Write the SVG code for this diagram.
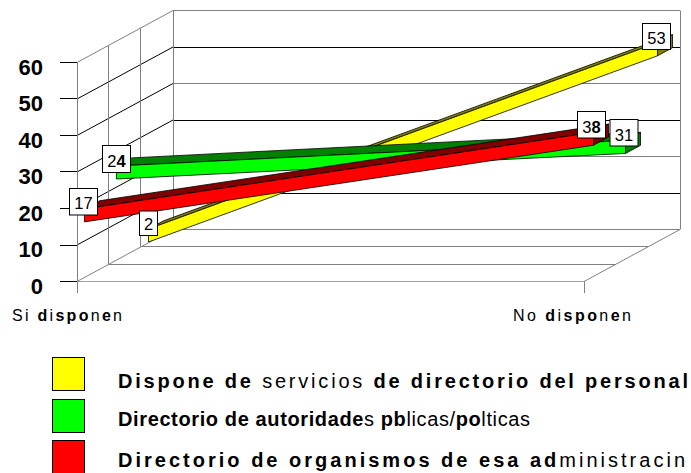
<svg xmlns="http://www.w3.org/2000/svg" width="691" height="473" viewBox="0 0 691 473">
<style>
.g{stroke:#000;stroke-width:1;fill:none}
.gg{stroke:#808080;stroke-width:1;fill:none}
.gl{stroke:#a0a0a0;stroke-width:1;fill:none}
.rb{stroke:#000;stroke-width:0.8;stroke-linejoin:round}
.ax{font-family:"Liberation Sans",Arial,sans-serif;font-size:22px;font-weight:bold;text-anchor:end;fill:#000}
.cat{font-family:"Liberation Sans",Arial,sans-serif;font-size:16px;fill:#000}
.lb{font-family:"Liberation Sans",Arial,sans-serif;font-size:16.5px;text-anchor:middle;fill:#000}
.box{fill:#fff;stroke:#000;stroke-width:1}
.lg{font-family:"Liberation Sans",Arial,sans-serif;font-size:20px;fill:#000}
.b{font-weight:bold}
</style>
<rect width="691" height="473" fill="#fff"/>
<g id="walls">
<line class="gg" x1="173" y1="10.5" x2="680" y2="10.5"/>
<line class="g" x1="173" y1="47.5" x2="680" y2="47.5"/>
<line class="gg" x1="173" y1="83.5" x2="680" y2="83.5"/>
<line class="g" x1="173" y1="120.5" x2="680" y2="120.5"/>
<line class="gg" x1="173" y1="156.5" x2="680" y2="156.5"/>
<line class="g" x1="173" y1="193.5" x2="680" y2="193.5"/>
<line class="gg" x1="173" y1="229.5" x2="680" y2="229.5"/>
<line class="gg" x1="173.5" y1="10.5" x2="173.5" y2="229.5"/>
<line class="gg" x1="680.5" y1="10.5" x2="680.5" y2="229.5"/>
<line class="gg" x1="77" y1="62.5" x2="173" y2="10.5"/>
<line class="g" x1="77" y1="99" x2="173" y2="47"/>
<line class="g" x1="77" y1="135.5" x2="173" y2="83.5"/>
<line class="g" x1="77" y1="172" x2="173" y2="120"/>
<line class="g" x1="77" y1="208.5" x2="173" y2="156.5"/>
<line class="g" x1="77" y1="245" x2="173" y2="193"/>
<line class="gg" x1="77" y1="281.5" x2="173" y2="229.5"/>
<line class="gg" x1="77.5" y1="62.5" x2="77.5" y2="293"/>
<line class="gg" x1="108.5" y1="45.2" x2="108.5" y2="264.2"/>
<line class="gg" x1="140.5" y1="27.8" x2="140.5" y2="246.8"/>
<line class="gg" x1="109" y1="264.5" x2="616" y2="264.5"/>
<line class="gg" x1="141" y1="246.5" x2="648" y2="246.5"/>
<line class="gl" x1="77" y1="281.5" x2="584" y2="281.5"/>
<line class="gg" x1="584" y1="281.5" x2="680" y2="229.5"/>
<line class="gg" x1="584.5" y1="281.5" x2="584.5" y2="293"/>
<line class="g" x1="60" y1="62.5" x2="77" y2="62.5"/>
<line class="g" x1="60" y1="98.5" x2="77" y2="98.5"/>
<line class="g" x1="60" y1="135.5" x2="77" y2="135.5"/>
<line class="g" x1="60" y1="171.5" x2="77" y2="171.5"/>
<line class="g" x1="60" y1="208.5" x2="77" y2="208.5"/>
<line class="g" x1="60" y1="245.5" x2="77" y2="245.5"/>
<line class="g" x1="60" y1="281.5" x2="77" y2="281.5"/>
</g>
<g id="axis-labels">
<text class="ax" x="43" y="74.5">60</text>
<text class="ax" x="43" y="111">50</text>
<text class="ax" x="43" y="147.5">40</text>
<text class="ax" x="43" y="184">30</text>
<text class="ax" x="43" y="220.5">20</text>
<text class="ax" x="43" y="257">10</text>
<text class="ax" x="43" y="293.5">0</text>
<text class="cat" x="12" y="321" textLength="110" lengthAdjust="spacing">Si <tspan class="b">d</tspan>i<tspan class="b">spo</tspan>n<tspan class="b">e</tspan>n</text>
<text class="cat" x="513" y="321" textLength="118" lengthAdjust="spacing">No <tspan class="b">d</tspan>i<tspan class="b">spo</tspan>n<tspan class="b">e</tspan>n</text>
</g>
<g id="series-yellow">
<polygon class="rb" fill="#808000" points="148.5,228.97 657.5,42.82 672.5,34.7 163.5,220.85"/>
<polygon class="rb" fill="#808000" points="657.5,42.82 672.5,34.7 672.5,47.7 657.5,55.82"/>
<polygon class="rb" fill="#ffff00" points="148.5,228.97 657.5,42.82 657.5,55.82 148.5,241.97"/>
</g>
<g id="series-green">
<polygon class="rb" fill="#008000" points="116.5,166 625.5,140.45 640.5,132.33 131.5,157.88"/>
<polygon class="rb" fill="#008000" points="625.5,140.45 640.5,132.33 640.5,145.33 625.5,153.45"/>
<polygon class="rb" fill="#00ff00" points="116.5,166 625.5,140.45 625.5,153.45 116.5,179"/>
</g>
<g id="series-red">
<polygon class="rb" fill="#800000" points="84.5,208.89 593.5,132.24 608.5,124.11 99.5,200.76"/>
<polygon class="rb" fill="#800000" points="593.5,132.24 608.5,124.11 608.5,137.11 593.5,145.24"/>
<polygon class="rb" fill="#ff0000" points="84.5,208.89 593.5,132.24 593.5,145.24 84.5,221.89"/>
</g>
<g id="data-labels">
<rect class="box" x="69.5" y="188.5" width="28" height="26.5"/>
<text class="lb" x="83.5" y="208.5">17</text>
<rect class="box" x="102.5" y="145.5" width="28" height="27"/>
<text class="lb" x="116.5" y="166.5">2<tspan class="b">4</tspan></text>
<rect class="box" x="139.5" y="211" width="18" height="24.5"/>
<text class="lb" x="148.5" y="230">2</text>
<rect class="box" x="642.5" y="23.5" width="28" height="26"/>
<text class="lb" x="656.5" y="43.5">53</text>
<rect class="box" x="577.5" y="111.5" width="28" height="26.5"/>
<text class="lb" x="591.5" y="132.5">3<tspan class="b">8</tspan></text>
<rect class="box" x="610" y="119.5" width="28" height="26.5"/>
<text class="lb" x="624" y="140.5">31</text>
</g>
<g id="legend">
<rect x="52.5" y="357.5" width="32" height="33" fill="#ffff00" stroke="#000"/>
<rect x="52.5" y="399.5" width="32" height="33" fill="#00ff00" stroke="#000"/>
<rect x="52.5" y="440.5" width="32" height="33" fill="#ff0000" stroke="#000"/>
<text class="lg" x="118" y="388" textLength="570" lengthAdjust="spacing"><tspan class="b">Dispone de</tspan> servicios <tspan class="b">de directorio del personal</tspan></text>
<text class="lg" x="118" y="426" textLength="412" lengthAdjust="spacing"><tspan class="b">Directorio de autoridade</tspan>s <tspan class="b">pb</tspan>licas/<tspan class="b">po</tspan>lticas</text>
<text class="lg" x="118" y="467" textLength="567" lengthAdjust="spacing"><tspan class="b">Directorio de organismos de esa ad</tspan>ministracin</text>
</g>
</svg>
